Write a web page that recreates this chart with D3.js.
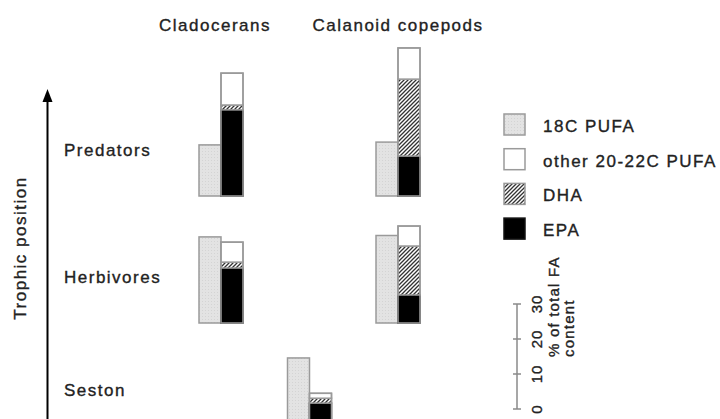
<!DOCTYPE html>
<html><head><meta charset="utf-8">
<script src="https://cdn.jsdelivr.net/npm/d3@7"></script>
<style>
html,body{margin:0;padding:0;background:#fff;}
text{font-family:"Liberation Sans",Arial,sans-serif;fill:#222;stroke:#222;stroke-width:0.35px;}
</style></head>
<body>
<svg id="chart" width="720" height="419"></svg>
<script>
// ---- data ----
const levels = ["Predators", "Herbivores", "Seston"];
const groups = ["Cladocerans", "Seston", "Calanoid copepods"];
const headerGroups = ["Cladocerans", "Calanoid copepods"];
const seriesNames = ["18C PUFA", "other 20-22C PUFA", "DHA", "EPA"];
// stacked order bottom->top for the second bar
const stackKeys = ["EPA", "DHA", "other 20-22C PUFA"];
// one entry per bar pair
const rowLevel = ["Predators", "Predators", "Herbivores", "Herbivores", "Seston"];
const rowGroup = ["Cladocerans", "Calanoid copepods", "Cladocerans", "Calanoid copepods", "Seston"];
const pufa18 = [14.6, 15.4, 24.6, 25.0, 22.3];
const epa    = [24.6, 11.4, 15.7,  8.0,  9.4];
const dha    = [ 1.4, 22.0,  1.7, 14.0,  1.4];
const other  = [ 9.1,  8.9,  5.7,  5.7,  1.4];
const scaleTicks = [0, 10, 20, 30];
const scaleLabel = ["% of total FA", "content"];

const rows = pufa18.map((v, i) => ({
  level: rowLevel[i], group: rowGroup[i],
  "18C PUFA": v, "EPA": epa[i], "DHA": dha[i], "other 20-22C PUFA": other[i]
}));

const svg = d3.select("#chart");
const defs = svg.append("defs");
const hatch = defs.append("pattern").attr("id", "hatch")
  .attr("patternUnits", "userSpaceOnUse").attr("width", 4).attr("height", 4);
hatch.append("rect").attr("width", 4).attr("height", 4).attr("fill", "#fff");
hatch.append("path").attr("d", "M-1,1 l2,-2 M0,4 l4,-4 M3,5 l2,-2")
  .attr("stroke", "#333").attr("stroke-width", 1.3);
const dots = defs.append("pattern").attr("id", "dots")
  .attr("patternUnits", "userSpaceOnUse").attr("width", 3).attr("height", 3);
dots.append("rect").attr("width", 3).attr("height", 3).attr("fill", "#e3e3e3");
dots.append("rect").attr("x", 1).attr("y", 1).attr("width", 1).attr("height", 1).attr("fill", "#d4d4d4");

const fills = {
  "18C PUFA": "url(#dots)",
  "other 20-22C PUFA": "#ffffff",
  "DHA": "url(#hatch)",
  "EPA": "#000000"
};

// scales
const pxPerUnit = 3.5;
const x = d3.scalePoint().domain(groups).range([221, 398]);
const base = d3.scaleOrdinal().domain(levels).range([196, 323, 436]);
const h = d3.scaleLinear().domain([0, 10]).range([0, 10 * pxPerUnit]);
const barW = 22;
const strokeC = "#9a9a9a";

const bars = svg.append("g");
rows.forEach(r => {
  const cx = x(r.group), b = base(r.level);
  bars.append("rect")
    .attr("x", cx - barW).attr("y", b - h(r["18C PUFA"]))
    .attr("width", barW).attr("height", h(r["18C PUFA"]))
    .attr("fill", fills["18C PUFA"]).attr("stroke", strokeC).attr("stroke-width", 1.5);
  let acc = 0;
  stackKeys.forEach(k => {
    const v = r[k];
    bars.append("rect")
      .attr("x", cx).attr("y", b - h(acc + v))
      .attr("width", barW).attr("height", h(v))
      .attr("fill", fills[k]).attr("stroke", k === "EPA" ? "#111" : strokeC).attr("stroke-width", 1.5);
    acc += v;
  });
  bars.append("rect")
    .attr("x", cx).attr("y", b - h(acc))
    .attr("width", barW).attr("height", h(acc))
    .attr("fill", "none").attr("stroke", strokeC).attr("stroke-width", 1.5);
});

const txt = (sel) => sel.attr("font-size", 17).attr("letter-spacing", 1.5);

// column headers
const headerShift = {"Cladocerans": -6, "Calanoid copepods": 0};
headerGroups.forEach(g => {
  svg.append("text").call(txt).attr("x", x(g) + headerShift[g]).attr("y", 31)
    .attr("text-anchor", "middle").text(g);
});

// level labels
const labelY = {"Predators": 156, "Herbivores": 283, "Seston": 396};
levels.forEach(l => {
  svg.append("text").call(txt).attr("x", 64).attr("y", labelY[l]).text(l);
});

// trophic arrow
svg.append("line").attr("x1", 47.5).attr("x2", 47.5).attr("y1", 419).attr("y2", 98)
  .attr("stroke", "#000").attr("stroke-width", 2);
svg.append("path").attr("d", "M47.5,89 L42.5,102 L52.5,102 Z").attr("fill", "#000");
svg.append("text").call(txt).attr("transform", "translate(26,248) rotate(-90)")
  .attr("text-anchor", "middle").text("Trophic position");

// legend
const leg = svg.append("g");
seriesNames.forEach((s, i) => {
  const y0 = 114 + i * 34.7;
  leg.append("rect").attr("x", 504).attr("y", y0).attr("width", 21).attr("height", 21)
    .attr("fill", fills[s]).attr("stroke", s === "EPA" ? "#111" : strokeC).attr("stroke-width", 1.5);
  leg.append("text").call(txt).attr("x", 543).attr("y", y0 + 18).text(s);
});

// scale bar
const sy = d3.scaleLinear().domain([0, 30]).range([409, 409 - 30 * pxPerUnit]);
const sb = svg.append("g").attr("transform", "translate(517,0)");
sb.append("line").attr("y1", sy(0)).attr("y2", sy(30)).attr("stroke", "#8a8a8a").attr("stroke-width", 1.5);
scaleTicks.forEach(t => {
  sb.append("line").attr("x1", -4).attr("x2", 4).attr("y1", sy(t)).attr("y2", sy(t))
    .attr("stroke", "#8a8a8a").attr("stroke-width", 1.5);
  sb.append("text").attr("font-size", 15).attr("letter-spacing", 1)
    .attr("transform", `translate(25,${sy(t)}) rotate(-90)`)
    .attr("text-anchor", "middle").text(t);
});
scaleLabel.forEach((s, i) => {
  svg.append("text").call(txt).attr("font-size", 15).attr("letter-spacing", 1.2)
    .attr("transform", `translate(${559 + i * 15},357) rotate(-90)`)
    .attr("text-anchor", "start").text(s);
});
</script>
</body></html>
